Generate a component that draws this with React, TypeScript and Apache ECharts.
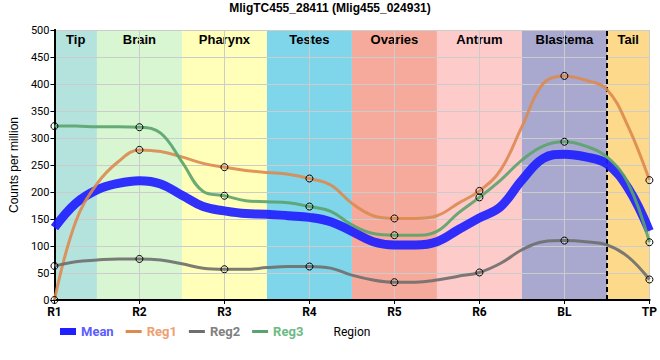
import React, { useEffect, useRef } from "react";
import * as echarts from "echarts";

const titleText = "MligTC455_28411 (Mlig455_024931)";
const categories = ["R1", "R2", "R3", "R4", "R5", "R6", "BL", "TP"];

// values every quarter of a region step (R1, +0.25, +0.5, ... TP);
// every 4th value sits on a region (marker positions)
const meanVals = [134, 179, 204, 216, 221, 215, 194, 173, 165, 160, 159, 156, 153, 145, 127, 108, 102, 102, 108, 130, 152, 173, 222, 262, 270, 265, 252, 207, 128];
const reg1Vals = [0, 145, 215, 256, 278, 275, 265, 253, 246, 240, 236, 233, 225, 213, 179, 156, 151, 151, 156, 179, 202, 241, 321, 401, 415, 407, 390, 321, 222];
const reg2Vals = [63, 71, 74, 76, 76, 74, 67, 59, 57, 57, 60, 62, 62, 59, 46, 37, 33, 33, 37, 44, 51, 68, 93, 108, 110, 108, 102, 80, 38];
const reg3Vals = [322, 322, 321, 321, 320, 309, 256, 201, 193, 184, 182, 180, 173, 164, 139, 123, 120, 120, 127, 161, 190, 222, 259, 285, 293, 285, 265, 216, 107];

const bandNames = ["Tip", "Brain", "Pharynx", "Testes", "Ovaries", "Antrum", "Blastema", "Tail"];
const bandColors = ["#b4e3dd", "#d7f6d1", "#ffffb9", "#7fd5ea", "#f5aa9c", "#fecbcb", "#a9a8cf", "#fdda8b"];

const seriesNames = ["Mean", "Reg1", "Reg2", "Reg3"];
const lineColors = ["#1f1fff", "#dd8a50", "#6e6e6e", "#5aa36c"];
const legendTextColors = ["#5c5cff", "#eea070", "#808080", "#6cba84"];

const STEP = 0.25;

function buildData(vals: number[], markers: boolean) {
  return vals.map((v, i) => {
    const x = i * STEP;
    const onRegion = Math.abs(x - Math.round(x)) < 1e-9;
    return markers && onRegion ? { value: [x, v] } : { value: [x, v], symbol: "none" };
  });
}

export default function App() {
  const ref = useRef<HTMLDivElement>(null);
  useEffect(() => {
    document.body.style.margin = "0";
    if (!ref.current) return;
    const chart = echarts.init(ref.current, null, { renderer: "svg" });
    const last = categories.length - 1;
    const bandData = bandNames.map((name, i) => {
      const start = i === 0 ? 0 : i - 0.5;
      const end = i === bandNames.length - 1 ? last : i + 0.5;
      return [
        { name, xAxis: start, itemStyle: { color: bandColors[i] } },
        { xAxis: end },
      ];
    });
    const markerStyle = {
      color: "rgba(0,0,0,0)",
      borderColor: "#000",
      borderWidth: 1,
    };
    const allVals = [meanVals, reg1Vals, reg2Vals, reg3Vals];
    const lineSeries = seriesNames.map((name, k) => ({
      name,
      type: "line",
      smooth: 0.4,
      z: 5,
      data: buildData(allVals[k], k !== 0),
      symbol: k === 0 ? "none" : "circle",
      symbolSize: 7,
      showSymbol: true,
      lineStyle: { color: lineColors[k], width: k === 0 ? 9 : 3, opacity: k === 0 ? 0.92 : 0.9 },
      itemStyle: k === 0 ? { color: lineColors[k] } : markerStyle,
      emphasis: { disabled: true },
    }));
    chart.setOption({
      animation: false,
      title: {
        text: titleText,
        left: "center",
        top: 2,
        padding: 0,
        textStyle: { fontSize: 12, fontWeight: "bold", fontFamily: "Liberation Sans", color: "#000" },
      },
      grid: { left: 50, right: 10, top: 30, bottom: 60 },
      legend: {
        left: 55,
        top: 320,
        itemWidth: 16,
        itemHeight: 7,
        itemGap: 12,
        selectedMode: false,
        textStyle: { fontSize: 13, fontWeight: "bold", fontFamily: "Roboto" },
        data: seriesNames.map((name, k) => ({
          name,
          icon: k === 0 ? "rect" : "path://M0,0 L16,0 L16,3 L0,3 Z",
          itemStyle: { color: lineColors[k], borderWidth: 0 },
          textStyle: { color: legendTextColors[k] },
        })),
      },
      xAxis: [
        {
          type: "value",
          min: 0,
          max: last,
          interval: 1,
          z: 2,
          name: "Region",
          nameLocation: "middle",
          nameGap: 26,
          nameTextStyle: { fontSize: 12, color: "#000", fontFamily: "Roboto" },
          axisLine: { show: true, lineStyle: { color: "#000", width: 2 } },
          axisTick: { show: true, length: 4, lineStyle: { color: "#000" } },
          axisLabel: {
            formatter: (v: number) => categories[v] ?? "",
            fontSize: 12,
            fontWeight: "bold",
            fontFamily: "Roboto",
            color: "#000",
            margin: 6,
          },
          splitLine: { show: true, lineStyle: { color: "#cccccc", width: 1 } },
        },
        {
          type: "value",
          position: "top",
          min: 0,
          max: last,
          z: 2,
          axisLine: { show: true, lineStyle: { color: "#000", width: 2 } },
          axisTick: { show: false },
          axisLabel: { show: false },
          splitLine: { show: false },
        },
      ],
      yAxis: [
        {
          type: "value",
          min: 0,
          max: 500,
          interval: 50,
          z: 2,
          name: "Counts per million",
          nameLocation: "middle",
          nameGap: 31,
          nameTextStyle: { fontSize: 12, color: "#000", fontFamily: "Liberation Sans" },
          axisLine: { show: true, lineStyle: { color: "#000", width: 2 } },
          axisTick: { show: true, length: 4, lineStyle: { color: "#000" } },
          axisLabel: { fontSize: 11, color: "#000", fontFamily: "Roboto", margin: 5 },
          splitLine: { show: true, lineStyle: { color: "#cccccc", width: 1 } },
        },
        {
          type: "value",
          position: "right",
          min: 0,
          max: 500,
          z: 2,
          axisLine: { show: true, lineStyle: { color: "#000", width: 2 } },
          axisTick: { show: false },
          axisLabel: { show: false },
          splitLine: { show: false },
        },
      ],
      series: [
        {
          name: "bands",
          type: "line",
          data: [],
          z: 1,
          markArea: {
            silent: true,
            z: 1,
            label: {
              show: true,
              position: "insideTop",
              distance: 3,
              fontSize: 13,
              fontWeight: "bold",
              fontFamily: "Liberation Sans",
              color: "#000",
            },
            data: bandData,
          },
          markLine: {
            silent: true,
            symbol: "none",
            label: { show: false },
            lineStyle: { color: "#000", width: 2, type: [5, 3] },
            data: [{ xAxis: last - 0.5 }],
          },
        },
        ...lineSeries,
      ],
    });
    return () => chart.dispose();
  }, []);
  return <div ref={ref} style={{ width: 660, height: 360 }} />;
}
